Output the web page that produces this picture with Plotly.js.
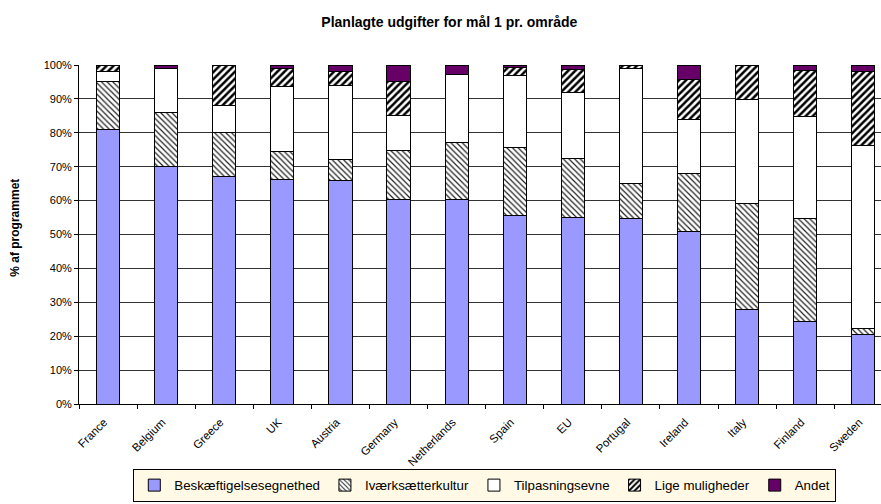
<!DOCTYPE html>
<html>
<head>
<meta charset="utf-8">
<script src="https://cdn.plot.ly/plotly-3.0.1.min.js"></script>
<style>html,body{margin:0;padding:0;background:#fff;}#chart{width:881px;height:504px;}</style>
</head>
<body>
<div id="chart"></div>
<script>
// Data (percent of programme)
const categories = ["France","Belgium","Greece","UK","Austria","Germany","Netherlands","Spain","EU","Portugal","Ireland","Italy","Finland","Sweden"];
const beskaeftigelse = [81.0, 70.0, 67.0, 66.3, 65.8, 60.4, 60.4, 55.5, 55.1, 54.8, 50.9, 27.8, 24.3, 20.4];
const ivaerksaetter  = [14.2, 16.0, 13.0,  8.2,  6.2, 14.3, 16.7, 20.1, 17.3, 10.3, 17.2, 31.2, 30.5,  1.8];
const tilpasning     = [ 2.8, 13.0,  8.0, 19.3, 22.1, 10.4, 20.2, 21.2, 19.6, 33.9, 15.7, 30.9, 30.0, 54.2];
const ligeMuligheder = [ 2.0,  0.0, 12.0,  5.2,  4.1, 10.0,  0.0,  2.4,  6.7,  1.0, 12.0, 10.1, 13.5, 21.8];
const andet          = [ 0.0,  1.0,  0.0,  1.0,  1.8,  4.9,  2.7,  0.8,  1.3,  0.0,  4.2,  0.0,  1.7,  1.8];
const seriesNames = ["Beskæftigelsesegnethed","Iværksætterkultur","Tilpasningsevne","Lige muligheder","Andet"];
const yTickVals = [0,10,20,30,40,50,60,70,80,90,100];
const yTickText = ["0%","10%","20%","30%","40%","50%","60%","70%","80%","90%","100%"];

const FONT = "Liberation Sans, Arial, sans-serif";
const outline = {color: "#000", width: 1};
const W = 0.4;

const traces = [
  {name: seriesNames[0], y: beskaeftigelse, marker: {color: "#9999FF", line: outline}},
  {name: seriesNames[1], y: ivaerksaetter, marker: {color: "#FFFFFF", line: outline,
     pattern: {shape: "\\", fgcolor: "#222", bgcolor: "#FFFFFF", size: 4, solidity: 0.3}}},
  {name: seriesNames[2], y: tilpasning, marker: {color: "#FFFFFF", line: outline}},
  {name: seriesNames[3], y: ligeMuligheder, marker: {color: "#FFFFFF", line: outline,
     pattern: {shape: "/", fgcolor: "#000", bgcolor: "#FFFFFF", size: 5, solidity: 0.5}}},
  {name: seriesNames[4], y: andet, marker: {color: "#660066", line: outline}}
].map(t => Object.assign({type: "bar", x: categories, width: W, hoverinfo: "none"}, t));

const layout = {
  width: 881, height: 504,
  margin: {l: 79, r: 0, t: 65, b: 100, pad: 0},
  paper_bgcolor: "#FFFFFF", plot_bgcolor: "#FFFFFF",
  barmode: "stack",
  font: {family: FONT, color: "#000", size: 11},
  title: {text: "<b>Planlagte udgifter for mål 1 pr. område</b>", font: {family: FONT, size: 14, color: "#000"},
          x: 0.51, xanchor: "center", y: 0.956, yanchor: "middle", xref: "container", yref: "container"},
  xaxis: {
    type: "category", range: [-0.5, 13.305], tickangle: -45,
    ticks: "outside", tickson: "boundaries", ticklen: 4, tickcolor: "#000",
    ticklabelstandoff: 6, ticklabelshift: -4,
    showline: true, linecolor: "#000", linewidth: 1, showgrid: false,
    tickfont: {family: FONT, size: 11.5, color: "#000"}, fixedrange: true
  },
  yaxis: {
    range: [0, 100], tickvals: yTickVals, ticktext: yTickText,
    ticks: "outside", ticklen: 4, tickcolor: "#000",
    showline: true, linecolor: "#000", linewidth: 1,
    showgrid: true, gridcolor: "#333", gridwidth: 1, zeroline: false,
    tickfont: {family: FONT, size: 11, color: "#000"}, fixedrange: true
  },
  annotations: [{
    text: "<b>% af programmet</b>", textangle: -90, showarrow: false,
    xref: "paper", yref: "paper", x: -0.0798, y: 0.52, xanchor: "center", yanchor: "middle",
    font: {family: FONT, size: 12, color: "#000"}
  }],
  showlegend: true,
  legend: {
    orientation: "h", x: 0.506, xanchor: "center", y: -0.289, yanchor: "bottom",
    bgcolor: "#FFF9E6", bordercolor: "#000", borderwidth: 1,
    font: {family: FONT, size: 13.3, color: "#000"}, traceorder: "normal",
    itemwidth: 30, tracegroupgap: 0
  }
};

Plotly.newPlot("chart", traces, layout, {staticPlot: true, displayModeBar: false});
</script>
</body>
</html>
